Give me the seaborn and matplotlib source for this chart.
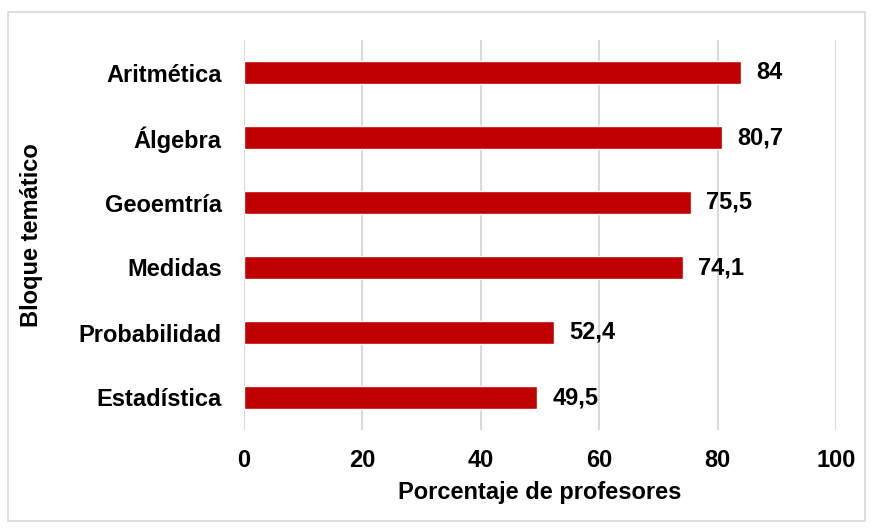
import matplotlib
matplotlib.use("Agg")
import matplotlib.pyplot as plt
import seaborn as sns
import pandas as pd
from matplotlib.patches import Rectangle

categories = ["Aritmética", "Álgebra", "Geoemtría", "Medidas", "Probabilidad", "Estadística"]
values = [84, 80.7, 75.5, 74.1, 52.4, 49.5]
labels = ["84", "80,7", "75,5", "74,1", "52,4", "49,5"]
xticks = [0, 20, 40, 60, 80, 100]

sns.set_theme(style="white")
plt.rcParams["font.family"] = ["Liberation Sans", "DejaVu Sans"]
plt.rcParams["font.weight"] = "bold"
plt.rcParams["text.color"] = "black"
plt.rcParams["xtick.color"] = "black"
plt.rcParams["ytick.color"] = "black"
plt.rcParams["axes.labelcolor"] = "black"

FS = 17

df = pd.DataFrame({"cat": categories, "val": values})

fig = plt.figure(figsize=(8.73, 5.32), dpi=100)
ax = fig.add_axes([244/873, 1-430/532, (836-244)/873, (430-40)/532])

sns.barplot(data=df, y="cat", x="val", orient="h", color="#C00000",
            saturation=1, width=0.36, ax=ax, zorder=3)

ax.set_xlim(0, 100)
ax.set_ylim(5.5, -0.5)
ax.set_xticks(xticks)
ax.set_xticklabels([str(t) for t in xticks], fontsize=FS, fontweight="bold")
ax.set_yticks(range(len(categories)))
ax.set_yticklabels(categories, fontsize=FS, fontweight="bold")
ax.tick_params(axis="x", length=0, pad=14)
ax.tick_params(axis="y", length=0, pad=16)
ax.xaxis.grid(True, color="#D9D9D9", linewidth=1.5, zorder=0)
ax.yaxis.grid(False)
for s in ax.spines.values():
    s.set_visible(False)

ax.bar_label(ax.containers[0], labels=labels, padding=11, fontsize=FS, fontweight="bold")

ax.set_xlabel("Porcentaje de profesores", fontsize=FS, fontweight="bold")
ax.set_ylabel("Bloque temático", fontsize=FS, fontweight="bold")
ax.xaxis.set_label_coords(0.5, (430-481)/390)
ax.yaxis.set_label_coords((43-244)/592, 0.5)

fig.patches.append(Rectangle((8/873, 1-521/532), (865-8)/873, (521-12)/532,
                             transform=fig.transFigure, fill=False,
                             edgecolor="#D9D9D9", linewidth=1.2))

fig.savefig("out.png", dpi=100)
